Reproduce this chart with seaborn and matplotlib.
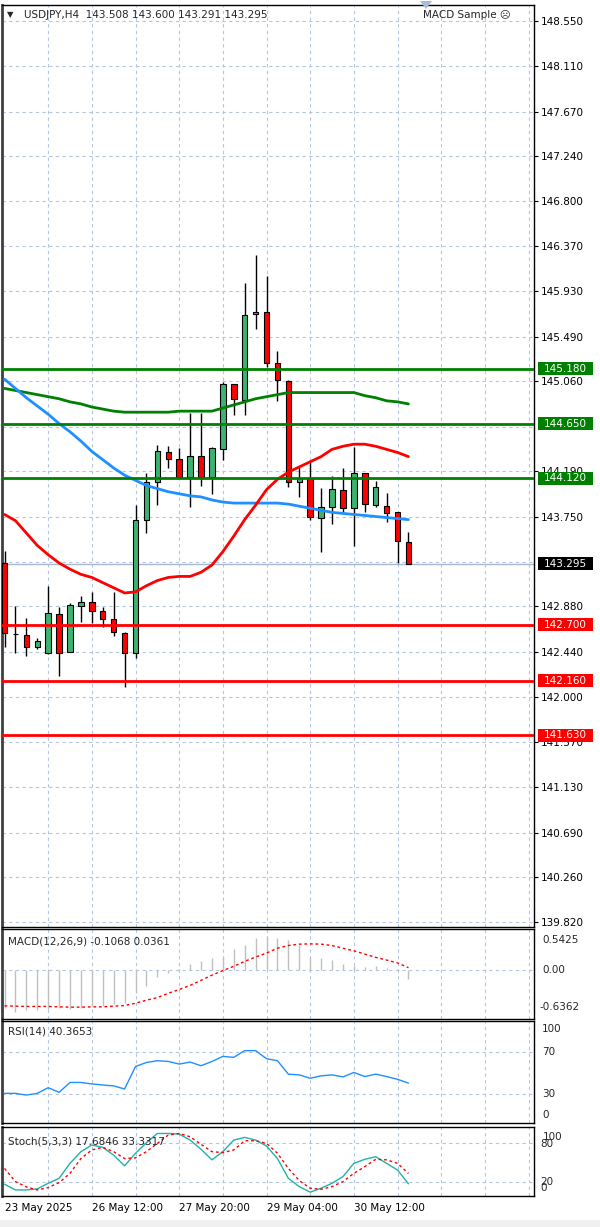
import numpy as np
import pandas as pd
import matplotlib
matplotlib.use("Agg")
import matplotlib.pyplot as plt
import matplotlib.transforms as mtransforms
from matplotlib.patches import Rectangle, Polygon
import seaborn as sns

sns.set_style("white")
plt.rcParams["font.family"] = ["DejaVu Sans"]

# --- data (USDJPY H4) ---
opens = [143.30, 142.61, 142.60, 142.49, 142.43, 142.81, 142.44, 142.88, 142.92, 142.84,
         142.76, 142.62, 142.43, 143.72, 144.08, 144.37, 144.31, 144.13, 144.34, 144.13,
         144.40, 145.03, 144.88, 145.71, 145.73, 145.24, 145.06, 144.08, 144.12, 143.74,
         143.84, 144.01, 143.83, 144.17, 143.86, 143.85, 143.79, 143.508]
highs = [143.42, 142.88, 142.77, 142.57, 143.08, 142.87, 142.91, 142.98, 143.02, 142.87,
         143.02, 142.63, 143.86, 144.17, 144.44, 144.43, 144.41, 144.75, 144.75, 144.42,
         145.05, 145.03, 146.01, 146.28, 146.08, 145.35, 145.07, 144.23, 144.30, 144.03,
         144.14, 144.22, 144.42, 144.17, 144.09, 143.98, 143.79, 143.600]
lows = [142.49, 142.43, 142.40, 142.47, 142.42, 142.21, 142.44, 142.73, 142.72, 142.68,
        142.59, 142.10, 142.38, 143.59, 143.86, 144.22, 144.13, 143.84, 144.05, 143.97,
        144.30, 144.73, 144.73, 145.57, 145.20, 144.87, 144.04, 143.94, 143.72, 143.41,
        143.68, 143.79, 143.46, 143.79, 143.84, 143.70, 143.30, 143.291]
closes = [142.62, 142.61, 142.49, 142.54, 142.82, 142.43, 142.89, 142.92, 142.84, 142.76,
          142.63, 142.43, 143.72, 144.08, 144.38, 144.31, 144.13, 144.34, 144.13, 144.41,
          145.03, 144.89, 145.70, 145.73, 145.24, 145.07, 144.08, 144.12, 143.75, 143.84,
          144.02, 143.83, 144.17, 143.87, 144.04, 143.78, 143.51, 143.295]

ma_red = [143.77, 143.71, 143.59, 143.47, 143.38, 143.30, 143.24, 143.19, 143.16, 143.11,
          143.06, 143.01, 143.02, 143.08, 143.13, 143.16, 143.17, 143.17, 143.21, 143.28,
          143.41, 143.56, 143.72, 143.86, 144.01, 144.11, 144.18, 144.23, 144.28, 144.33,
          144.40, 144.43, 144.45, 144.45, 144.43, 144.40, 144.37, 144.33]
ma_blue = [145.08, 144.99, 144.90, 144.82, 144.74, 144.65, 144.57, 144.48, 144.38, 144.30,
           144.22, 144.15, 144.10, 144.05, 144.02, 143.99, 143.97, 143.95, 143.94, 143.91,
           143.89, 143.88, 143.88, 143.88, 143.88, 143.88, 143.87, 143.85, 143.83, 143.81,
           143.79, 143.78, 143.77, 143.76, 143.75, 143.74, 143.73, 143.72]
ma_green = [144.99, 144.97, 144.95, 144.93, 144.91, 144.89, 144.86, 144.84, 144.81, 144.79,
            144.77, 144.76, 144.76, 144.76, 144.76, 144.76, 144.77, 144.77, 144.77, 144.77,
            144.80, 144.83, 144.86, 144.89, 144.91, 144.93, 144.95, 144.95, 144.95, 144.95,
            144.95, 144.95, 144.95, 144.92, 144.90, 144.87, 144.86, 144.84]

resistance = [145.180, 144.650, 144.120]
support = [142.700, 142.160, 141.630]
last_price = 143.295

# grid levels of the price scale; labels hidden behind the price boxes are left out
price_ticks = [139.820, 140.260, 140.690, 141.130, 141.570, 142.000, 142.440, 142.880,
               143.310, 143.750, 144.190, 144.620, 145.060, 145.490, 145.930, 146.370,
               146.800, 147.240, 147.670, 148.110, 148.550]
hidden_ticks = [143.310, 144.620]

macd_main = [-0.49, -0.54, -0.52, -0.52, -0.51, -0.49, -0.50, -0.49, -0.46, -0.46,
             -0.44, -0.43, -0.30, -0.21, -0.09, -0.03, 0.02, 0.085, 0.12, 0.16,
             0.18, 0.28, 0.33, 0.42, 0.44, 0.43, 0.40, 0.33, 0.18, 0.16,
             0.14, 0.085, 0.055, 0.04, 0.055, 0.03, 0.02, -0.1068]
macd_signal = [-0.464, -0.468, -0.472, -0.472, -0.472, -0.477, -0.481, -0.481, -0.477, -0.477,
               -0.468, -0.46, -0.43, -0.39, -0.356, -0.30, -0.25, -0.196, -0.13, -0.062,
               -0.002, 0.054, 0.119, 0.175, 0.227, 0.29, 0.326, 0.344, 0.348, 0.344,
               0.326, 0.29, 0.257, 0.214, 0.171, 0.136, 0.098, 0.0361]

rsi = [30.6, 30.6, 29.0, 30.6, 36.0, 31.6, 41.0, 41.0, 39.6, 38.6,
       37.7, 34.8, 56.2, 60.0, 61.7, 61.0, 58.5, 60.4, 56.9, 61.0,
       65.8, 64.9, 71.3, 71.3, 63.6, 61.7, 48.9, 48.2, 45.0, 47.3,
       48.2, 46.3, 50.5, 46.6, 48.9, 46.6, 44.0, 40.37]

stoch_k = [17.0, 8.4, 8.4, 10.0, 18.5, 26.0, 48.7, 66.4, 76.5, 73.0,
           61.0, 45.0, 64.0, 80.0, 94.0, 94.0, 93.0, 84.0, 70.0, 54.0,
           66.4, 84.0, 88.0, 84.0, 75.0, 56.0, 26.0, 13.4, 5.0, 11.0,
           18.5, 28.6, 48.7, 54.8, 58.8, 48.7, 38.6, 17.68]
stoch_d = [41.0, 21.0, 13.0, 8.4, 12.0, 19.5, 33.6, 56.0, 69.0, 73.0,
           66.4, 56.0, 57.0, 66.4, 79.0, 91.6, 94.0, 89.0, 77.5, 66.4,
           65.0, 69.0, 83.0, 83.0, 79.0, 64.0, 41.0, 22.5, 11.0, 9.4,
           13.4, 21.0, 33.6, 43.7, 54.8, 54.0, 48.7, 33.33]

date_ticks = [0, 8, 16, 24, 32]
date_labels = ["23 May 2025", "26 May 12:00", "27 May 20:00", "29 May 04:00", "30 May 12:00"]

# --- styling ---
GREEN_BODY = "#3CB371"
RED = "#FF0000"
GREEN = "#008000"
BLUE = "#1E90FF"
GRID = "#B4C6DE"
FS = 7.5

W, H = 600, 1227
fig = plt.figure(figsize=(W / 100, H / 100), dpi=100)
fig.patch.set_facecolor("white")


def px_axes(top, bottom, left=2, right=534):
    return fig.add_axes([left / W, 1 - bottom / H, (right - left) / W, (bottom - top) / H])


def fig_text(x, y, s, size=FS, **kw):
    fig.text(x / W, 1 - y / H, s, va="center", fontsize=size, **kw)


def style_panel(ax):
    ax.set_xlim(-0.23, 48.5)
    ax.set_xticks([])
    ax.set_yticks([])
    for s in ax.spines.values():
        s.set_color("black")
        s.set_linewidth(1)
    ax.spines["left"].set_linewidth(2)
    ax.spines["left"].set_color("#404040")
    for b in range(4, 49, 4):
        ax.axvline(b, color=GRID, lw=0.8, ls=(0, (3, 3)), zorder=0)


df = pd.DataFrame({"open": opens, "high": highs, "low": lows, "close": closes})
df["bar"] = np.arange(len(df))
up = df["close"] >= df["open"]

# ---------------- main price panel ----------------
ax = px_axes(5, 927)
style_panel(ax)
ax.set_ylim(139.776, 148.702)
for t in price_ticks:
    ax.axhline(t, color=GRID, lw=0.8, ls=(0, (3, 3)), zorder=0)
ax.axhline(last_price, color="#A8B8D0", lw=1, zorder=1)

ax.vlines(df["bar"], df["low"], df["high"], color="black", lw=1, zorder=3)
ax.bar(df["bar"][up], (df["close"] - df["open"])[up], bottom=df["open"][up], width=0.5,
       color=GREEN_BODY, edgecolor="black", linewidth=0.8, zorder=4)
ax.bar(df["bar"][~up], (df["close"] - df["open"])[~up], bottom=df["open"][~up], width=0.5,
       color=RED, edgecolor="black", linewidth=0.8, zorder=4)

sns.lineplot(x=df["bar"], y=ma_green, ax=ax, color=GREEN, lw=2, zorder=5)
sns.lineplot(x=df["bar"], y=ma_blue, ax=ax, color=BLUE, lw=2, zorder=5)
sns.lineplot(x=df["bar"], y=ma_red, ax=ax, color=RED, lw=2, zorder=5)

for lvl in resistance:
    ax.axhline(lvl, color=GREEN, lw=2, zorder=6)
for lvl in support:
    ax.axhline(lvl, color=RED, lw=2, zorder=6)

shown_ticks = [t for t in price_ticks if t not in hidden_ticks]
ax.yaxis.tick_right()
ax.set_yticks(shown_ticks)
ax.set_yticklabels([f"{t:.3f}" for t in shown_ticks])
ax.tick_params(axis="y", length=3, width=0.8, pad=2, labelsize=FS, colors="black")
ax.set_xlabel("")
ax.set_ylabel("")

# price boxes on the right scale
trans = mtransforms.blended_transform_factory(ax.transAxes, ax.transData)
bx0 = (538 - 2) / 532
bw = 55 / 532
bh = 13 / 103.3
boxes = [(l, GREEN) for l in resistance] + [(last_price, "black")] + [(l, RED) for l in support]
for lvl, col in boxes:
    ax.add_patch(Rectangle((bx0, lvl - bh / 2), bw, bh, transform=trans, facecolor=col,
                           edgecolor="none", clip_on=False, zorder=19))
    ax.text(bx0 + bw / 2, lvl, f"{lvl:.3f}", transform=trans, color="white", ha="center",
            va="center", fontsize=FS, clip_on=False, zorder=20)

# header
fig_text(7, 15, "\u25bc", size=6)
fig_text(24, 15, "USDJPY,H4  143.508 143.600 143.291 143.295")
fig_text(423, 15, "MACD Sample \u2639")
fig.patches.append(Polygon([[420 / W, 1 - 1 / H], [432 / W, 1 - 1 / H], [426 / W, 1 - 9 / H]],
                           closed=True, transform=fig.transFigure, facecolor="#A9BCD6",
                           edgecolor="none"))

# ---------------- MACD ----------------
ax_m = px_axes(929, 1019)
style_panel(ax_m)
ax_m.set_ylim(-0.6362, 0.5425)
ax_m.axhline(0, color=GRID, lw=0.8, ls=(0, (3, 3)), zorder=0)
ax_m.vlines(df["bar"], 0, macd_main, color="#C0C0C0", lw=1, zorder=2)
sns.lineplot(x=df["bar"], y=macd_signal, ax=ax_m, color=RED, lw=1, linestyle=(0, (2, 2)), zorder=3)
ax_m.set_xlabel("")
ax_m.set_ylabel("")
fig_text(8, 942, "MACD(12,26,9) -0.1068 0.0361")
fig_text(542, 940, "0.5425")
fig_text(542, 970, "0.00")
fig_text(539, 1007, "-0.6362")

# ---------------- RSI ----------------
ax_r = px_axes(1021, 1123)
style_panel(ax_r)
ax_r.set_ylim(2.4, 99.5)
for v in (70, 30):
    ax_r.axhline(v, color=GRID, lw=0.8, ls=(0, (3, 3)), zorder=0)
sns.lineplot(x=df["bar"], y=rsi, ax=ax_r, color=BLUE, lw=1, zorder=3)
ax_r.set_xlabel("")
ax_r.set_ylabel("")
fig_text(8, 1031, "RSI(14) 40.3653")
fig_text(542, 1029, "100")
fig_text(542, 1052, "70")
fig_text(542, 1094, "30")
fig_text(542, 1115, "0")

# ---------------- Stochastic ----------------
ax_s = px_axes(1127, 1196)
style_panel(ax_s)
ax_s.set_ylim(-0.8, 103.8)
for v in (80, 20):
    ax_s.axhline(v, color=GRID, lw=0.8, ls=(0, (3, 3)), zorder=0)
sns.lineplot(x=df["bar"], y=stoch_k, ax=ax_s, color="#20B2AA", lw=1, zorder=3)
sns.lineplot(x=df["bar"], y=stoch_d, ax=ax_s, color=RED, lw=1, linestyle=(0, (2, 2)), zorder=3)
ax_s.set_xlabel("")
ax_s.set_ylabel("")
fig_text(8, 1141, "Stoch(5,3,3) 17.6846 33.3317")
fig_text(543, 1137, "100")
fig_text(540, 1144, "80")
fig_text(540, 1182, "20")
fig_text(540, 1188, "0")

ax_s.set_xticks(date_ticks)
ax_s.set_xticklabels(date_labels)
for lbl in ax_s.get_xticklabels():
    lbl.set_horizontalalignment("left")
ax_s.tick_params(axis="x", length=3, width=0.8, pad=2, labelsize=FS, colors="black")

# light grey strip at the bottom edge
fig.patches.append(Rectangle((0, 0), 1, 7 / H, transform=fig.transFigure,
                             facecolor="#F0F0F0", edgecolor="none"))

fig.savefig("out.png", dpi=100)
